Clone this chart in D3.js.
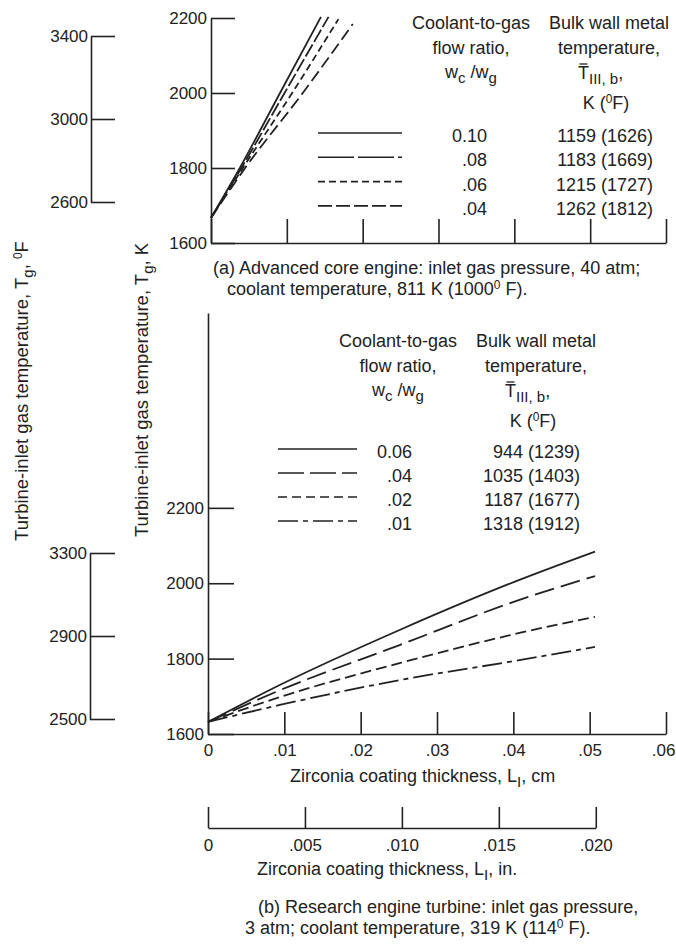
<!DOCTYPE html>
<html><head><meta charset="utf-8">
<script src="https://cdn.jsdelivr.net/npm/d3@7"></script>
<style>
html,body{margin:0;padding:0;background:#fff;}
svg text{font-family:"Liberation Sans",Arial,sans-serif;fill:#222;}
</style></head>
<body><svg id="c" width="676" height="946"></svg>
<script>
// ---------- data ----------
const xTicksCm = [0, 0.01, 0.02, 0.03, 0.04, 0.05, 0.06];
const xTicksIn = [0, 0.005, 0.010, 0.015, 0.020];
const yTicksKa = [1600, 1800, 2000, 2200];
const yTicksFa = [2600, 3000, 3400];
const yTicksKb = [1600, 1800, 2000, 2200];
const yTicksFb = [2500, 2900, 3300];

// (a) Advanced core engine: [thickness cm, Tg K]
const ratiosA = ["0.10", ".08", ".06", ".04"];
const wallTempsA = ["1159 (1626)", "1183 (1669)", "1215 (1727)", "1262 (1812)"];
const a010 = [[0,1667],[0.0038,1800],[0.0091,2000],[0.0145,2203]];
const a008 = [[0,1667],[0.0040,1800],[0.0097,2000],[0.0155,2203]];
const a006 = [[0,1667],[0.0042,1800],[0.0107,2000],[0.0168,2197]];
const a004 = [[0,1667],[0.0045,1800],[0.0121,2000],[0.0187,2184]];

// (b) Research engine turbine
const ratiosB = ["0.06", ".04", ".02", ".01"];
const wallTempsB = ["944 (1239)", "1035 (1403)", "1187 (1677)", "1318 (1912)"];
const b006 = [[0,1632],[0.0094,1730],[0.0251,1876],[0.0408,2009],[0.0507,2084]];
const b004 = [[0,1632],[0.0094,1716],[0.0251,1836],[0.0408,1956],[0.0507,2019]];
const b002 = [[0,1632],[0.0094,1698],[0.0251,1788],[0.0408,1868],[0.0507,1911]];
const b001 = [[0,1632],[0.0094,1677],[0.0251,1743],[0.0408,1796],[0.0507,1831]];

const dashesA = ["none", "14,3", "7,4", "12,5"];
const dashesB = ["none", "20,7", "11,5", "20,5,5,5"];

// ---------- drawing ----------
const ink = "#222";
const svg = d3.select("#c");
svg.append("rect").attr("width",676).attr("height",946).attr("fill","#fff");

const xA = d3.scaleLinear().domain([0,0.06]).range([211,666]);
const yA = d3.scaleLinear().domain([1600,2200]).range([243,18]);
const fA = d3.scaleLinear().domain([2600,3400]).range([202,36]);
const xB = d3.scaleLinear().domain([0,0.06]).range([208,666]);
const yB = d3.scaleLinear().domain([1600,2717]).range([734,313]);
const fB = d3.scaleLinear().domain([2500,3300]).range([719,553]);
const xIn = d3.scaleLinear().domain([0,0.02]).range([xB(0), xB(0.02*2.54)]);

function styleAxis(g, size){
  g.selectAll("path,line").attr("stroke",ink).attr("stroke-width",1.6);
  g.selectAll("text").attr("font-size",null).attr("font-family",null)
    .style("font-size",size+"px").attr("fill",ink);
}
const cmFmt = d => d===0 ? "0" : d3.format(".2f")(d).slice(1);
const inFmt = d => d===0 ? "0" : d3.format(".3f")(d).slice(1);

// ---- chart (a)
svg.append("g").attr("transform","translate(211,0)")
  .call(d3.axisLeft(yA).tickValues(yTicksKa).tickSizeInner(-24).tickSizeOuter(0).tickPadding(4).tickFormat(d3.format("d")))
  .call(g=>styleAxis(g,17));
svg.append("g").attr("transform","translate(0,243)")
  .call(d3.axisBottom(xA).tickValues(xTicksCm).tickSizeInner(-24).tickSizeOuter(0).tickFormat(""))
  .call(g=>styleAxis(g,17));
svg.append("g").attr("transform","translate(91,0)")
  .call(d3.axisLeft(fA).tickValues(yTicksFa).tickSizeInner(-24).tickSizeOuter(0).tickPadding(3).tickFormat(d3.format("d")))
  .call(g=>styleAxis(g,17));

const lineA = d3.line().x(d=>xA(d[0])).y(d=>yA(d[1])).curve(d3.curveMonotoneX);
[a010,a008,a006,a004].forEach((s,i)=>{
  svg.append("path").attr("d",lineA(s)).attr("fill","none").attr("stroke",ink)
    .attr("stroke-width",1.8).attr("stroke-dasharray",dashesA[i]);
});

// ---- chart (b)
svg.append("g").attr("transform","translate(208,0)")
  .call(d3.axisLeft(yB).tickValues(yTicksKb).tickSizeInner(-26).tickSizeOuter(0).tickPadding(4).tickFormat(d3.format("d")))
  .call(g=>styleAxis(g,17));
svg.append("g").attr("transform","translate(0,734)")
  .call(d3.axisBottom(xB).tickValues(xTicksCm).tickSizeInner(-22).tickSizeOuter(0).tickPadding(10).tickFormat(cmFmt))
  .call(g=>styleAxis(g,17))
  .call(g=>g.selectAll(".tick text").filter(d=>d===0.06).attr("text-anchor","end").attr("x",9));
svg.append("g").attr("transform","translate(0,828)")
  .call(d3.axisBottom(xIn).tickValues(xTicksIn).tickSizeInner(-21).tickSizeOuter(0).tickPadding(11).tickFormat(inFmt))
  .call(g=>styleAxis(g,17));
svg.append("g").attr("transform","translate(90,0)")
  .call(d3.axisLeft(fB).tickValues(yTicksFb).tickSizeInner(-25).tickSizeOuter(0).tickPadding(3).tickFormat(d3.format("d")))
  .call(g=>styleAxis(g,17));

const lineB = d3.line().x(d=>xB(d[0])).y(d=>yB(d[1])).curve(d3.curveMonotoneX);
[b006,b004,b002,b001].forEach((s,i)=>{
  svg.append("path").attr("d",lineB(s)).attr("fill","none").attr("stroke",ink)
    .attr("stroke-width",1.8).attr("stroke-dasharray",dashesB[i]);
});

// ---------- rich text helper ----------
function rich(parent, x, y, anchor, parts, size, transform){
  size = size || 18;
  const t = parent.append("text").attr("x",x).attr("y",y).attr("text-anchor",anchor)
    .style("font-size",size+"px");
  if (transform) t.attr("transform",transform);
  let shift = 0;
  parts.forEach(p=>{
    if (typeof p === "string") p = {t:p};
    const target = p.sub ? 5 : (p.sup ? -6 : 0);
    t.append("tspan").attr("dy", target-shift)
      .style("font-size", p.sub ? "15px" : (p.sup ? "12px" : size+"px")).text(p.t);
    shift = target;
  });
  return t;
}
function tbar(parent, x, y){
  const t = rich(parent, x, y, "start", ["T",{t:"III, b",sub:true},","]);
  const e = t.node().getExtentOfChar(0);
  parent.append("line").attr("x1",e.x+1.5).attr("x2",e.x+e.width-1.5)
    .attr("y1",y-15).attr("y2",y-15).attr("stroke",ink).attr("stroke-width",1.3);
}

// ---------- axis titles ----------
rich(svg, 0, 0, "middle", ["Turbine-inlet gas temperature, T",{t:"g",sub:true},", ",{t:"0",sup:true},"F"], 18.5,
  "translate(28,391) rotate(-90)");
rich(svg, 0, 0, "middle", ["Turbine-inlet gas temperature, T",{t:"g",sub:true},", K"], 18.5,
  "translate(148,390) rotate(-90)");
rich(svg, 290, 782, "start", ["Zirconia coating thickness, L",{t:"I",sub:true},", cm"]);
rich(svg, 257, 875, "start", ["Zirconia coating thickness, L",{t:"I",sub:true},", in."]);

// ---------- captions ----------
rich(svg, 213, 274, "start", ["(a) Advanced core engine:  inlet gas pressure, 40 atm;"]);
rich(svg, 227, 295, "start", ["coolant temperature, 811 K (1000",{t:"0",sup:true}," F)."]);
rich(svg, 258, 913, "start", ["(b) Research engine turbine:  inlet gas pressure,"]);
rich(svg, 245, 934, "start", ["3 atm; coolant temperature, 319 K (114",{t:"0",sup:true}," F)."]);

// ---------- legends ----------
function legend(cfg){
  const g = svg.append("g");
  rich(g, cfg.c1, cfg.h, "middle", ["Coolant-to-gas"]);
  rich(g, cfg.c1, cfg.h+25, "middle", ["flow ratio,"]);
  rich(g, cfg.c1, cfg.h+49, "middle", ["w",{t:"c",sub:true}," /w",{t:"g",sub:true}]);
  rich(g, cfg.c2, cfg.h, "middle", ["Bulk wall metal"]);
  rich(g, cfg.c2, cfg.h+25, "middle", ["temperature,"]);
  tbar(g, cfg.tx, cfg.h+50);
  rich(g, cfg.c2-3, cfg.h+80, "middle", ["K (",{t:"0",sup:true},"F)"]);
  cfg.ratios.forEach((r,i)=>{
    const y = cfg.r0 + i*cfg.dr;
    g.append("line").attr("x1",cfg.l1).attr("x2",cfg.l2).attr("y1",y-9).attr("y2",y-9)
      .attr("stroke",ink).attr("stroke-width",1.6).attr("stroke-dasharray",cfg.dashes[i]);
    rich(g, cfg.rx, y, "end", [r]);
    rich(g, cfg.tr, y, "end", [cfg.temps[i]]);
  });
}
legend({c1:471, c2:609, h:29, tx:578, r0:142, dr:24.3, l1:318, l2:402, rx:487, tr:653,
  ratios:ratiosA, temps:wallTempsA, dashes:["none","36,4","7,4","14,4"]});
legend({c1:398, c2:536, h:347, tx:505, r0:458, dr:24, l1:278, l2:357, rx:412, tr:580,
  ratios:ratiosB, temps:wallTempsB, dashes:["none","26,6","9,5","20,5,5,5"]});
</script></body></html>
